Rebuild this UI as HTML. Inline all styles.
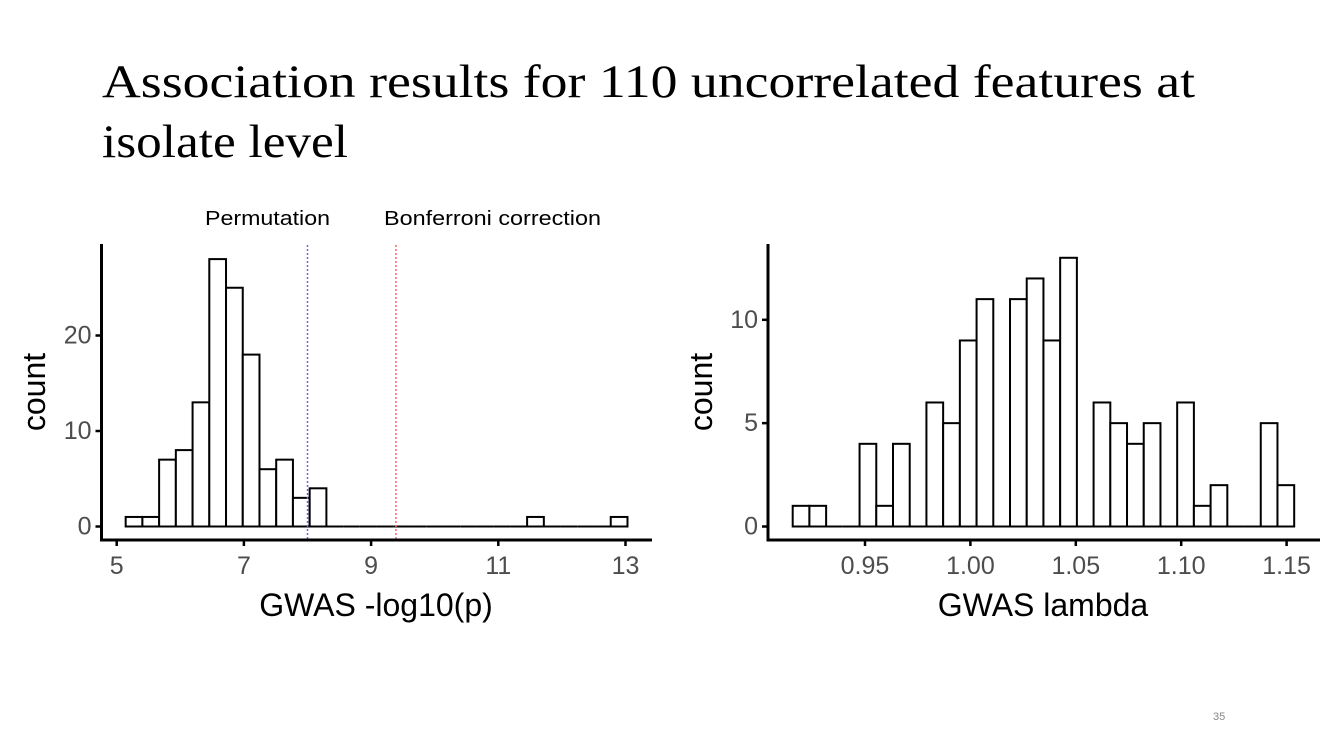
<!DOCTYPE html>
<html><head><meta charset="utf-8">
<style>
html,body{margin:0;padding:0;background:#fff;width:1333px;height:750px;overflow:hidden}
svg{display:block}
</style></head>
<body>
<svg id="slide" width="1333" height="750" viewBox="0 0 1333 750" xmlns="http://www.w3.org/2000/svg">
<g font-family="'Liberation Serif', serif" font-size="47" fill="#000">
<text x="102" y="97" textLength="1093" lengthAdjust="spacingAndGlyphs">Association results for 110 uncorrelated features at</text>
<text x="102" y="157" textLength="246" lengthAdjust="spacingAndGlyphs">isolate level</text>
</g>
<text x="205" y="225" font-family="'Liberation Sans', sans-serif" font-size="20" textLength="125" lengthAdjust="spacingAndGlyphs">Permutation</text>
<text x="384" y="225" font-family="'Liberation Sans', sans-serif" font-size="20" textLength="217" lengthAdjust="spacingAndGlyphs">Bonferroni correction</text>
<text x="1213" y="720" font-family="'Liberation Sans', sans-serif" font-size="11" fill="#888">35</text>
<g id="left-chart"></g>
<g id="right-chart"></g>
</svg>
<script>
const leftCounts = [1,1,7,8,13,28,25,18,6,7,3,4,0,0,0,0,0,0,0,0,0,0,0,0,1,0,0,0,0,1];
const leftBinStart = 5.141;
const leftBinWidth = 0.263;
const leftXTicks = [5,7,9,11,13];
const leftYTicks = [0,10,20];
const permutationThreshold = 8.0;
const bonferroniThreshold = 9.39;

const rightCounts = [1,1,0,0,4,1,4,0,6,5,9,11,0,11,12,9,13,0,6,5,4,5,0,6,1,2,0,0,5,2];
const rightBinStart = 0.9157;
const rightBinWidth = 0.00793;
const rightXTicks = [0.95,1.00,1.05,1.10,1.15];
const rightYTicks = [0,5,10];

const NS = 'http://www.w3.org/2000/svg';
function mk(tag, attrs, parent){const e=document.createElementNS(NS,tag);for(const k in attrs)e.setAttribute(k,attrs[k]);parent.appendChild(e);return e;}

function drawHist(g, cfg){
  const x = v => cfg.x0px + (v - cfg.x0) * cfg.xScale;
  const y = c => cfg.y0px - c * cfg.yScale;
  cfg.counts.forEach((c,i)=>{
    const a = cfg.binStart + i*cfg.binWidth, b = a + cfg.binWidth;
    let r;
    if (c > 0) {
      r = mk('rect',{x:x(a),y:y(c),width:x(b)-x(a),height:y(0)-y(c),fill:'#fff',stroke:'#000','stroke-width':2},g);
    } else {
      r = mk('line',{x1:x(a),x2:x(b),y1:y(0),y2:y(0),stroke:'#000','stroke-width':2},g);
    }
    
    
  });
  (cfg.vlines||[]).forEach(v=>{
    const l = mk('line',{x1:x(v.val),x2:x(v.val),y1:245,y2:cfg.axisY,stroke:v.color,'stroke-width':1.5,'stroke-dasharray':'2,2'},g);
    
    
  });
  const ya = mk('line',{x1:cfg.axisX,x2:cfg.axisX,y1:244,y2:cfg.axisY+1.5,stroke:'#000','stroke-width':3},g);
  
  
  const xa = mk('line',{x1:cfg.axisX-1.5,x2:cfg.axisEnd,y1:cfg.axisY,y2:cfg.axisY,stroke:'#000','stroke-width':3},g);
  
  
  cfg.xTicks.forEach(t=>{
    mk('line',{x1:x(t),x2:x(t),y1:cfg.axisY,y2:cfg.axisY+6,stroke:'#000','stroke-width':2.5},g);
    const tx = mk('text',{x:x(t),y:cfg.axisY+34,'text-anchor':'middle','font-family':"'Liberation Sans', sans-serif",'font-size':25,fill:'#4d4d4d'},g);
    tx.textContent = cfg.fmt(t);
    
    
  });
  cfg.yTicks.forEach(t=>{
    mk('line',{x1:cfg.axisX-6,x2:cfg.axisX,y1:y(t),y2:y(t),stroke:'#000','stroke-width':2.5},g);
    const tx = mk('text',{x:cfg.axisX-10,y:y(t)+8,'text-anchor':'end','font-family':"'Liberation Sans', sans-serif",'font-size':25,fill:'#4d4d4d'},g);
    tx.textContent = t;
    
    
  });
  const xt = mk('text',{x:cfg.xTitleX,y:616,'text-anchor':'middle','font-family':"'Liberation Sans', sans-serif",'font-size':32,fill:'#000'},g);
  xt.textContent = cfg.xTitle;
  
  
  const yt = mk('text',{x:0,y:0,'text-anchor':'middle','font-family':"'Liberation Sans', sans-serif",'font-size':32,fill:'#000',transform:`translate(${cfg.yTitleX},${cfg.yTitleY}) rotate(-90)`},g);
  yt.textContent = 'count';
  
  
}

drawHist(document.getElementById('left-chart'),{
  counts:leftCounts,binStart:leftBinStart,binWidth:leftBinWidth,xTicks:leftXTicks,yTicks:leftYTicks,
  x0:5,x0px:116.7,xScale:63.6,y0px:526.5,yScale:9.55,axisX:101.5,axisY:540,axisEnd:652,
  vlines:[{val:permutationThreshold,color:'#6666ff',name:'permutation-threshold-line'},{val:bonferroniThreshold,color:'#ff6666',name:'bonferroni-threshold-line'}],
  fmt:t=>String(t),xTitle:'GWAS -log10(p)',xTitleX:376,yTitleX:45,yTitleY:392
});
drawHist(document.getElementById('right-chart'),{
  counts:rightCounts,binStart:rightBinStart,binWidth:rightBinWidth,xTicks:rightXTicks,yTicks:rightYTicks,
  x0:0.95,x0px:865,xScale:2108,y0px:526.5,yScale:20.67,axisX:768,axisY:540,axisEnd:1320,
  fmt:t=>t.toFixed(2),xTitle:'GWAS lambda',xTitleX:1043,yTitleX:712,yTitleY:392
});
</script>
</body></html>
